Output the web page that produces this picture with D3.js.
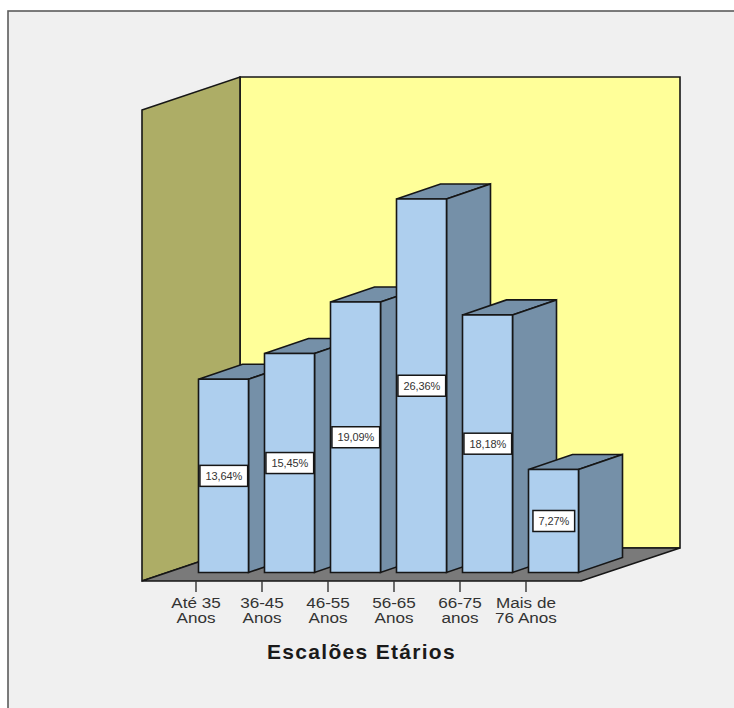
<!DOCTYPE html>
<html>
<head>
<meta charset="utf-8">
<script src="https://cdn.jsdelivr.net/npm/d3@7/dist/d3.min.js"></script>
<style>
html, body { margin: 0; padding: 0; background: #fff; }
svg { display: block; }
text { font-family: "Liberation Sans", Arial, sans-serif; }
</style>
</head>
<body>
<svg id="chart" width="734" height="708"></svg>
<script>
// Age-group distribution, drawn as a 3D-style column chart
const categories = [["Até 35", "Anos"], ["36-45", "Anos"], ["46-55", "Anos"], ["56-65", "Anos"], ["66-75", "anos"], ["Mais de", "76 Anos"]];
const percentages = [13.64, 15.45, 19.09, 26.36, 18.18, 7.27];
const valueLabels = ["13,64%", "15,45%", "19,09%", "26,36%", "18,18%", "7,27%"];
const axisTitle = "Escalões Etários";

const svg = d3.select("#chart");
const ink = "#161616";

// Box projection: every bar and wall recedes by the same offset
const depth = { dx: 44, dy: -15 };
const wallDepth = { dx: 98, dy: -33 };

const x = d3.scaleBand().domain(d3.range(categories.length)).range([198.5, 578.5]).paddingInner(16 / 66).paddingOuter(0).align(0);
const y = d3.scaleLinear().domain([0, 30]).range([572.5, 147.4]);

const line = d3.line();
const poly = (pts, fill, sw = 1.6) => svg.append("path")
  .attr("d", line(pts) + "Z")
  .attr("fill", fill)
  .attr("stroke", ink)
  .attr("stroke-width", sw)
  .attr("stroke-linejoin", "miter");

// Panel behind the chart
svg.append("rect").attr("x", 8).attr("y", 11).attr("width", 740).attr("height", 710)
  .attr("fill", "#f0f0f0").attr("stroke", "#5c5c5c").attr("stroke-width", 1.6);

// Walls and floor
const wallLeft = 142, wallRight = 581, wallTop = 110, wallBase = 581;
const d = wallDepth;
poly([[wallLeft + d.dx, wallTop + d.dy], [wallRight + d.dx + 1, wallTop + d.dy], [wallRight + d.dx + 1, wallBase + d.dy], [wallLeft + d.dx, wallBase + d.dy]], "#ffff99");
poly([[wallLeft, wallTop], [wallLeft + d.dx, wallTop + d.dy], [wallLeft + d.dx, wallBase + d.dy], [wallLeft, wallBase]], "#adad66");
poly([[wallLeft, wallBase], [wallLeft + d.dx, wallBase + d.dy], [wallRight + d.dx + 1, wallBase + d.dy], [wallRight, wallBase]], "#7a7a7a");

// Bars, painted left to right so each front hides its neighbour's side
percentages.forEach((v, i) => {
  const x0 = x(i), x1 = x0 + x.bandwidth(), top = y(v), base = y(0);
  const g = { dx: depth.dx, dy: depth.dy };
  poly([[x0, top], [x0 + g.dx, top + g.dy], [x1 + g.dx, top + g.dy], [x1, top]], "#7590a8");
  poly([[x1, top], [x1 + g.dx, top + g.dy], [x1 + g.dx, base + g.dy], [x1, base]], "#7590a8");
  poly([[x0, top], [x1, top], [x1, base], [x0, base]], "#aecfee");
});

// Value labels centred on the bar fronts
percentages.forEach((v, i) => {
  const cx = x(i) + x.bandwidth() / 2 + 0.3, cy = (y(v) + y(0)) / 2;
  const g = svg.append("g");
  const t = g.append("text").attr("x", cx).attr("y", cy + 4)
    .attr("text-anchor", "middle").attr("font-size", 11).attr("letter-spacing", -0.1).attr("fill", "#333").text(valueLabels[i]);
  const w = t.node().getComputedTextLength() + 11;
  g.insert("rect", "text").attr("x", cx - w / 2).attr("y", cy - 10.5).attr("width", w).attr("height", 21)
    .attr("fill", "#fff").attr("stroke", ink).attr("stroke-width", 1.5);
});

// Category ticks and two-line labels along the floor edge; the glyphs run slightly wide
const tickX = i => x(i) - 2.5;
categories.forEach((lines, i) => {
  svg.append("line").attr("x1", tickX(i)).attr("x2", tickX(i)).attr("y1", 581).attr("y2", 592)
    .attr("stroke", "#333").attr("stroke-width", 1.4);
  lines.forEach((s, k) => svg.append("text")
    .attr("transform", `translate(${tickX(i)},${607.5 + k * 15.5}) scale(1.18,1)`)
    .attr("text-anchor", "middle").attr("font-size", 14.5).attr("fill", "#333").text(s));
});

svg.append("text").attr("x", 361.5).attr("y", 659).attr("text-anchor", "middle")
  .attr("font-size", 21).attr("font-weight", "bold").attr("fill", "#1a1a1a")
  .attr("letter-spacing", 1.3).text(axisTitle);
</script>
</body>
</html>
